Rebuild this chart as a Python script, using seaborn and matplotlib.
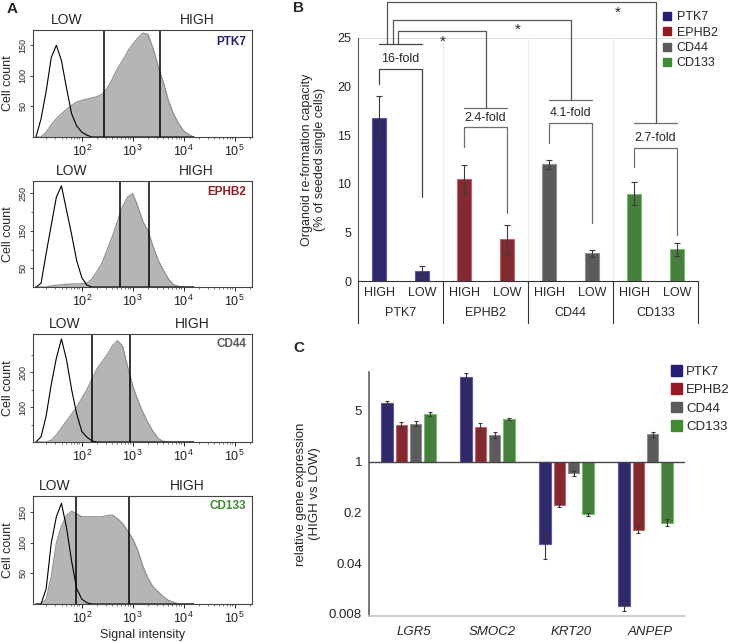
import numpy as np
import pandas as pd
import matplotlib
matplotlib.use("Agg")
import matplotlib.pyplot as plt
import seaborn as sns
from matplotlib.patches import Patch
from matplotlib.ticker import FixedLocator, NullLocator, LogLocator
from matplotlib.transforms import ScaledTranslation

sns.set_theme(style="white")
plt.rcParams['font.family'] = ['Liberation Sans', 'DejaVu Sans']

# ======================
# Data
# ======================

markers = ["PTK7", "EPHB2", "CD44", "CD133"]
marker_colors = ["#251f73", "#921b24", "#5b5b5b", "#3f8a33"]
edge_colors = ["#5b57a0", "#c0646b", "#8f8f8f", "#7cb870"]

# Panel A: flow cytometry histograms (cell count read at log10 signal)
log_signal = [1.1, 1.2, 1.3, 1.4, 1.5, 1.6, 1.7, 1.8, 1.9, 2.0,
              2.1, 2.2, 2.3, 2.4, 2.5, 2.6, 2.7, 2.8, 2.9, 3.0,
              3.1, 3.2, 3.3, 3.4, 3.5, 3.6, 3.7, 3.8, 3.9, 4.0,
              4.1, 4.2]

ptk7_ctrl = [0, 30, 75, 130, 150, 125, 80, 38, 18, 8,
             3, 0, 0, 0, 0, 0, 0, 0, 0, 0,
             0, 0, 0, 0, 0, 0, 0, 0, 0, 0, 0, 0]
ptk7_stain = [0, 0, 8, 20, 30, 38, 45, 52, 57, 60,
              62, 64, 66, 70, 80, 95, 112, 125, 140, 152,
              162, 170, 168, 145, 115, 90, 60, 38, 22, 10, 4, 0]

ephb2_ctrl = [0, 10, 90, 165, 240, 270, 205, 140, 70, 25,
              5, 0, 0, 0, 0, 0, 0, 0, 0, 0,
              0, 0, 0, 0, 0, 0, 0, 0, 0, 0, 0, 0]
ephb2_stain = [0, 0, 0, 3, 5, 6, 7, 8, 8, 9,
               10, 22, 42, 65, 100, 135, 175, 215, 240, 250,
               215, 175, 150, 108, 72, 45, 22, 6, 2, 0, 0, 0]

cd44_ctrl = [0, 15, 75, 165, 240, 295, 235, 150, 80, 30,
             14, 3, 0, 0, 0, 0, 0, 0, 0, 0,
             0, 0, 0, 0, 0, 0, 0, 0, 0, 0, 0, 0]
cd44_stain = [0, 0, 0, 5, 20, 40, 60, 80, 100, 125,
              150, 180, 210, 230, 250, 275, 290, 275, 215, 160,
              120, 85, 55, 30, 10, 2, 0, 0, 0, 0, 0, 0]

cd133_ctrl = [0, 0, 25, 100, 143, 165, 125, 70, 25, 8,
              2, 0, 0, 0, 0, 0, 0, 0, 0, 0,
              0, 0, 0, 0, 0, 0, 0, 0, 0, 0, 0, 0]
cd133_stain = [0, 0, 8, 45, 100, 128, 145, 152, 148, 143,
               143, 143, 143, 143, 145, 146, 140, 132, 120, 107,
               88, 62, 42, 28, 20, 12, 6, 3, 0, 0, 0, 0]

ctrl_counts = [ptk7_ctrl, ephb2_ctrl, cd44_ctrl, cd133_ctrl]
stain_counts = [ptk7_stain, ephb2_stain, cd44_stain, cd133_stain]

# gate boundaries (signal intensity)
gates = [(270, 3400), (575, 2100), (160, 890), (76, 850)]
count_max = [175, 283, 309, 177]
count_ticks = [[50, 100, 150], [50, 150, 250], [100, 200], [50, 100, 150]]
count_minor = [[], [100, 200], [50, 150, 250], []]

# Panel B: organoid re-formation capacity (%)
levels = ["HIGH", "LOW"]
organoid_mean = [16.8, 1.0, 10.5, 4.3, 12.0, 2.85, 9.0, 3.25]
organoid_err = [2.2, 0.55, 1.4, 1.5, 0.5, 0.35, 1.2, 0.7]
fold_labels = ["16-fold", "2.4-fold", "4.1-fold", "2.7-fold"]

# Panel C: relative gene expression (HIGH vs LOW)
genes = ["LGR5", "SMOC2", "KRT20", "ANPEP"]
ptk7_expr = [6.4, 14.7, 0.074, 0.0102]
ephb2_expr = [3.2, 3.0, 0.25, 0.115]
cd44_expr = [3.35, 2.35, 0.69, 2.4]
cd133_expr = [4.55, 3.85, 0.188, 0.145]
ptk7_expr_err = [0.5, 2.2, 0.028, 0.0015]
ephb2_expr_err = [0.28, 0.45, 0.015, 0.011]
cd44_expr_err = [0.28, 0.2, 0.06, 0.19]
cd133_expr_err = [0.28, 0.12, 0.011, 0.016]

# ======================
# Figure
# ======================

W, H = 729, 642
fig = plt.figure(figsize=(W / 100, H / 100), dpi=100)


def add_axes_px(left, top, right, bottom):
    return fig.add_axes([left / W, 1 - bottom / H, (right - left) / W, (bottom - top) / H])


# ======================
# Panel A
# ======================

hist_boxes = [(33, 30, 252, 137), (33, 181, 252, 287), (33, 334, 252, 442), (33, 496, 252, 604)]
low_x_px = [67, 72, 65, 55]
high_x_px = [197, 196, 192, 187]
name_y_px = [12, 11, 10, 10]
signal = [10 ** v for v in log_signal]

for i, m in enumerate(markers):
    left, top, right, bottom = hist_boxes[i]
    ax = add_axes_px(left, top, right, bottom)
    ax.set_xscale("log")
    ax.fill_between(signal, stain_counts[i], color="#b5b5b5", lw=0)
    sns.lineplot(x=signal, y=stain_counts[i], color="#8a8a8a", lw=0.8, ax=ax)
    sns.lineplot(x=signal, y=ctrl_counts[i], color="black", lw=0.8, ax=ax)
    for g in gates[i]:
        ax.axvline(g, color="black", lw=1.1)
    ax.set_xlim(11, 2.2e5)
    ax.set_ylim(0, count_max[i])
    ax.xaxis.set_major_locator(LogLocator(base=10, numticks=10))
    ax.xaxis.set_minor_locator(LogLocator(base=10, subs=np.arange(2, 10), numticks=10))
    ax.yaxis.set_major_locator(FixedLocator(count_ticks[i]))
    ax.yaxis.set_minor_locator(FixedLocator(count_minor[i]))
    ax.tick_params(axis="x", which="major", labelsize=9, length=3, width=0.7,
                   direction="out", bottom=True, pad=2, colors="#222222")
    ax.tick_params(axis="x", which="minor", length=1.5, width=0.5, bottom=True, color="#444444")
    ax.tick_params(axis="y", which="major", labelsize=6.5, length=2.5, width=0.6,
                   left=True, pad=1.5, labelrotation=90)
    ax.tick_params(axis="y", which="minor", length=1.5, width=0.5, left=True)
    for lbl in ax.get_yticklabels():
        lbl.set_va("center")
    for s in ax.spines.values():
        s.set_color("#444444")
        s.set_linewidth(0.8)
    ax.set_ylabel("Cell count", fontsize=9, labelpad=3)
    ax.set_xlabel("")
    h = bottom - top
    w = right - left
    ax.text((low_x_px[i] - left) / w, 1 + 10 / h, "LOW", transform=ax.transAxes,
            ha="center", va="center", fontsize=10)
    ax.text((high_x_px[i] - left) / w, 1 + 10 / h, "HIGH", transform=ax.transAxes,
            ha="center", va="center", fontsize=10)
    ax.text(1 - 6 / w, 1 - name_y_px[i] / h, m, transform=ax.transAxes, ha="right",
            va="center", fontsize=8.5, fontweight="bold", color=marker_colors[i])
    if i == 3:
        ax.set_xlabel("Signal intensity", fontsize=9, labelpad=2)

# ======================
# Panel B
# ======================

axB = add_axes_px(358, 38, 698, 281)
bar_names = [f"{m} {l}" for m in markers for l in levels]
bar_colors = [c for c in marker_colors for _ in levels]
bar_edges = [c for c in edge_colors for _ in levels]
df_b = pd.DataFrame({"bar": bar_names, "value": organoid_mean})

sns.barplot(data=df_b, x="bar", y="value", hue="bar", palette=bar_colors,
            width=0.33, legend=False, errorbar=None, ax=axB, linewidth=0.8)
for p, ec in zip(axB.patches, bar_edges):
    p.set_edgecolor(ec)
axB.errorbar(range(len(organoid_mean)), organoid_mean, yerr=organoid_err, fmt="none",
             ecolor="#3a3a3a", elinewidth=0.8, capsize=2, capthick=0.8)

axB.set_xlim(-0.5, 7.5)
axB.set_ylim(0, 25)
axB.set_yticks([0, 5, 10, 15, 20, 25])
axB.set_xticks([])
axB.set_xlabel("")
axB.tick_params(axis="y", labelsize=9, length=0, pad=5)
axB.set_ylabel("Organoid re-formation capacity\n(% of seeded single cells)",
               fontsize=9, labelpad=8, linespacing=1.15)
for side in ["top", "right"]:
    axB.spines[side].set_visible(False)
axB.spines["left"].set_color("#555555")
axB.spines["bottom"].set_color("#333333")
axB.spines["left"].set_linewidth(0.8)
axB.spines["bottom"].set_linewidth(0.8)

# light grid
axB.plot([-0.5, 7.4], [25, 25], color="#dcdcdc", lw=0.8, zorder=0)
for xs in [1.5, 3.5, 5.5]:
    axB.plot([xs, xs], [0, 25], color="#ececec", lw=0.8, zorder=0)

# category table below the axis
for xs in [-0.5, 1.5, 3.5, 5.5, 7.5]:
    axB.plot([xs, xs], [0, -4.3], color="#333333", lw=0.8, clip_on=False)
for j in range(len(bar_names)):
    axB.text(j, -1.25, levels[j % 2], ha="center", va="center", fontsize=9)
for k, m in enumerate(markers):
    axB.text(2 * k + 0.5, -3.3, m, ha="center", va="center", fontsize=9)

# fold-change brackets
fold_top = [21.8, 15.8, 16.3, 13.7]
fold_leg_high = [20.3, 13.8, 14.2, 11.7]
fold_leg_low = [8.6, 7.0, 6.0, 4.7]
bk = "#6e6e6e"
for k in range(4):
    x0, x1 = 2 * k, 2 * k + 1
    axB.plot([x0, x0, x1, x1], [fold_leg_high[k], fold_top[k], fold_top[k], fold_leg_low[k]],
             color="#444444" if k == 0 else bk, lw=0.9, clip_on=False)
    axB.text(2 * k + 0.5, fold_top[k] + 1.0, fold_labels[k], ha="center", va="center", fontsize=9)

# significance brackets
base_y = [24.4, 17.8, 18.6, 16.3]
for k in range(4):
    axB.plot([2 * k, 2 * k + 1], [base_y[k], base_y[k]], color="#444444" if k == 0 else bk,
             lw=0.9, clip_on=False)
sig_left = [0.45, 0.32, 0.18]
sig_top = [25.7, 26.9, 28.7]
star_xy = [(1.5, 24.6), (3.26, 25.8), (5.6, 27.6)]
for k in range(3):
    xr = 2 * (k + 1) + 0.5
    axB.plot([sig_left[k], sig_left[k], xr, xr], [base_y[0], sig_top[k], sig_top[k], base_y[k + 1]],
             color="#555555", lw=0.9, clip_on=False)
    axB.text(star_xy[k][0], star_xy[k][1], "*", ha="center", va="center", fontsize=11)

fig.legend(handles=[Patch(color=c, label=m) for m, c in zip(markers, marker_colors)],
           loc="upper left", bbox_to_anchor=(663 / W, 1 - 11 / H), frameon=False, fontsize=9,
           handlelength=0.6, handleheight=0.6, handletextpad=0.5, labelspacing=0.28,
           borderaxespad=0, borderpad=0)

# ======================
# Panel C
# ======================

axC = add_axes_px(369, 372, 685, 616)
expr = [ptk7_expr, ephb2_expr, cd44_expr, cd133_expr]
expr_err = [ptk7_expr_err, ephb2_expr_err, cd44_expr_err, cd133_expr_err]
df_c = pd.DataFrame({
    "gene": [g for _ in markers for g in genes],
    "marker": [m for m in markers for _ in genes],
    "value": [v for vals in expr for v in vals],
})
df_c["rel"] = df_c["value"] - 1

sns.barplot(data=df_c, x="gene", y="rel", hue="marker", palette=marker_colors,
            width=0.72, gap=0.18, errorbar=None, bottom=1, legend=False, ax=axC, linewidth=0.8)
for p, ec in zip(axC.patches, [c for c in edge_colors for _ in genes]):
    p.set_edgecolor(ec)

offsets = [-0.27, -0.09, 0.09, 0.27]
for k in range(4):
    axC.errorbar([gi + offsets[k] for gi in range(4)], expr[k], yerr=expr_err[k], fmt="none",
                 ecolor="#3a3a3a", elinewidth=0.8, capsize=1.5, capthick=0.8)

axC.set_yscale("log")
axC.set_ylim(0.0075, 17.2)
axC.set_xlim(-0.5, 3.5)
axC.yaxis.set_major_locator(FixedLocator([0.008, 0.04, 0.2, 1, 5]))
axC.set_yticklabels(["0.008", "0.04", "0.2", "1", "5"])
axC.yaxis.set_minor_locator(NullLocator())
axC.tick_params(axis="y", labelsize=9.5, length=0, pad=5)
axC.set_xticks(range(4))
axC.set_xticklabels(genes, fontstyle="italic", fontsize=9.5)
axC.tick_params(axis="x", length=0, pad=7)
for lbl in axC.get_xticklabels():
    lbl.set_transform(lbl.get_transform() + ScaledTranslation(5 / 100, 0, fig.dpi_scale_trans))
axC.set_xlabel("")
axC.set_ylabel("relative gene expression\n(HIGH vs LOW)", fontsize=9.5, labelpad=6, linespacing=1.15)
axC.axhline(1, color="#444444", lw=1.0, zorder=3)
for side in ["top", "right"]:
    axC.spines[side].set_visible(False)
axC.spines["left"].set_color("#666666")
axC.spines["bottom"].set_color("#c8c8c8")

fig.legend(handles=[Patch(color=c, label=m) for m, c in zip(markers, marker_colors)],
           loc="upper left", bbox_to_anchor=(671 / W, 1 - 365 / H), frameon=False, fontsize=9.5,
           handlelength=0.85, handleheight=0.85, handletextpad=0.3, labelspacing=0.42,
           borderaxespad=0, borderpad=0)

# ======================
# Panel letters
# ======================

fig.text(7 / W, 1 - 9 / H, "A", fontsize=11, fontweight="bold", va="center")
fig.text(293 / W, 1 - 8 / H, "B", fontsize=11, fontweight="bold", va="center")
fig.text(293 / W, 1 - 348 / H, "C", fontsize=11, fontweight="bold", va="center")

fig.savefig("out.png", dpi=100)
